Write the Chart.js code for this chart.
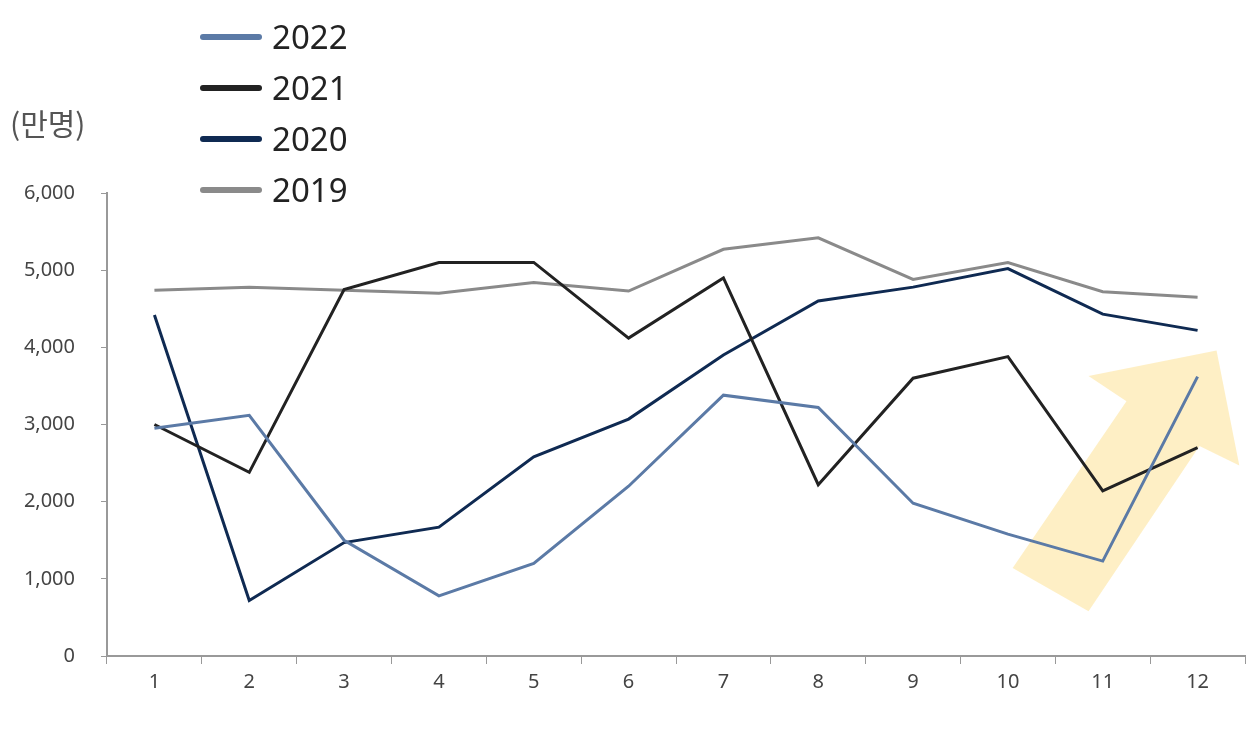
<!DOCTYPE html>
<html><head><meta charset="utf-8">
<script src="https://cdn.jsdelivr.net/npm/chart.js@4"></script>
<style>
body{margin:0;background:#fff;font-family:"Noto Sans CJK KR",sans-serif;}
#wrap{position:relative;width:1259px;height:737px;}
#legend{position:absolute;left:200px;top:11px;font-family:"Noto Sans","Noto Sans CJK KR";font-size:33px;color:#222;line-height:51px;}
#legend div{display:flex;align-items:center;}
#legend span.sw{display:inline-block;width:62px;height:6px;border-radius:3px;margin-right:10px;}
#unit{position:absolute;left:10px;top:100px;font-size:30px;color:#555;}
</style></head><body>
<div id="wrap">
<canvas id="c" width="1259" height="737"></canvas>
<div id="unit">(만명)</div>
<div id="legend"></div>
</div>
<script>
const months = ['1','2','3','4','5','6','7','8','9','10','11','12'];
const s2022 = [2950, 3120, 1500, 780, 1200, 2200, 3380, 3220, 1980, 1580, 1230, 3620];
const s2021 = [3000, 2380, 4750, 5100, 5100, 4120, 4900, 2220, 3600, 3880, 2140, 2700];
const s2020 = [4420, 720, 1470, 1670, 2580, 3070, 3900, 4600, 4780, 5020, 4430, 4220];
const s2019 = [4740, 4780, 4740, 4700, 4840, 4730, 5270, 5420, 4880, 5100, 4720, 4650];
const series = [
  { label: '2022', data: s2022, color: '#5b7aa6' },
  { label: '2021', data: s2021, color: '#222222' },
  { label: '2020', data: s2020, color: '#0f2a52' },
  { label: '2019', data: s2019, color: '#8a8a8a' }
];
// arrow outline in data space (category index, value)
const arrowPts = [[9.85,580],[9.05,1140],[10.25,3300],[9.85,3630],[11.2,3960],[11.44,2470],[11.02,2720]];

const legend = document.getElementById('legend');
series.forEach(s => {
  const d = document.createElement('div');
  d.innerHTML = `<span class="sw" style="background:${s.color}"></span>${s.label}`;
  legend.appendChild(d);
});

const arrowPlugin = {
  id: 'arrow',
  beforeDatasetsDraw(chart) {
    const { ctx, scales: { x, y } } = chart;
    ctx.save();
    ctx.fillStyle = 'rgba(253,226,150,0.55)';
    ctx.beginPath();
    arrowPts.forEach(([i, v], k) => {
      const px = x.getPixelForValue(i), py = y.getPixelForValue(v);
      k ? ctx.lineTo(px, py) : ctx.moveTo(px, py);
    });
    ctx.closePath();
    ctx.fill();
    ctx.restore();
  }
};

new Chart(document.getElementById('c'), {
  type: 'line',
  data: {
    labels: months,
    datasets: series.map(s => ({
      label: s.label, data: s.data, borderColor: s.color,
      borderWidth: 3, pointRadius: 0, tension: 0
    }))
  },
  options: {
    responsive: false, animation: false,
    layout: { padding: { top: 193, right: 14, bottom: 37, left: 0 } },
    plugins: { legend: { display: false }, tooltip: { enabled: false } },
    scales: {
      x: {
        offset: true,
        grid: { offset: true, drawOnChartArea: false, tickLength: 8, color: '#999' },
        border: { color: '#999', width: 2 },
        ticks: { color: '#444', font: { size: 20, family: 'Noto Sans' }, padding: 6 }
      },
      y: {
        min: 0, max: 6000,
        afterFit(sc) { sc.width = 107; },
        grid: { drawOnChartArea: false, tickLength: 6, color: '#999' },
        border: { color: '#999', width: 2 },
        ticks: {
          stepSize: 1000, color: '#444', padding: 26,
          font: { size: 20, family: 'Noto Sans' },
          callback: v => v.toLocaleString('en-US')
        }
      }
    }
  },
  plugins: [arrowPlugin]
});
</script>
</body></html>
